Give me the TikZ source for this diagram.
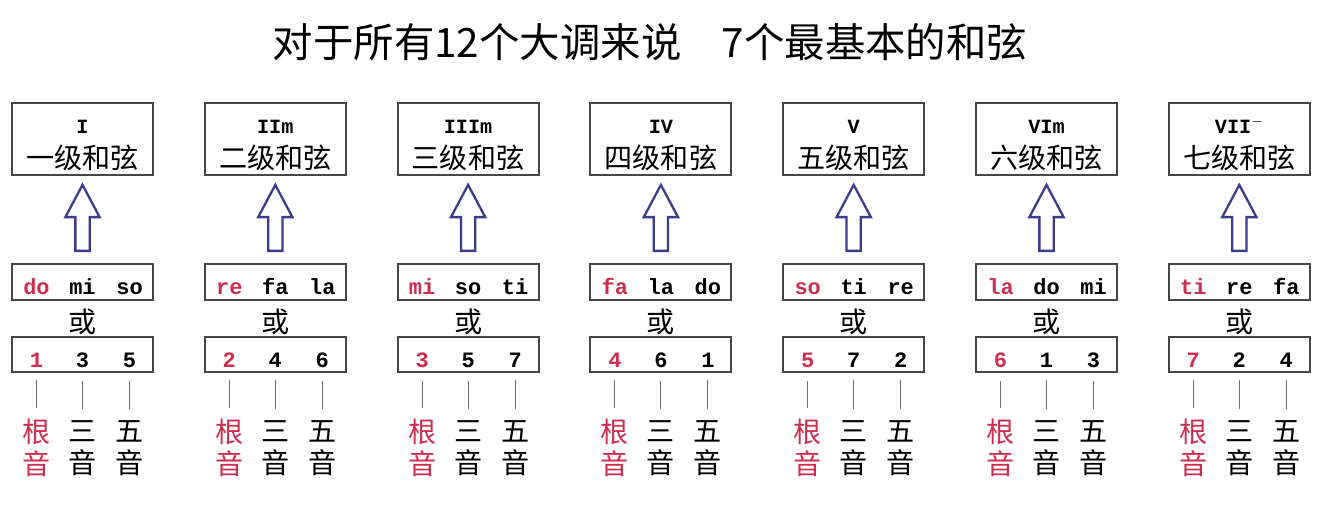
\documentclass[tikz,border=0pt]{standalone}
\usepackage{fontspec}
\setmonofont{Liberation Mono}
\newfontfamily\cjk{Noto Sans CJK SC}
\usepackage{tikz}
\usetikzlibrary{shapes.arrows}
\usepackage{xcolor}
\definecolor{rootred}{RGB}{205, 45, 80}
\definecolor{arrowblue}{RGB}{60, 60, 140}
\definecolor{boxgray}{RGB}{70, 70, 70}
\definecolor{tickgray}{RGB}{110, 110, 110}

\begin{document}
\begin{tikzpicture}[x=0.02cm, y=-0.02cm,
    chordbox/.style={draw=boxgray, line width=1.1pt, minimum width=2.82cm, inner sep=0pt},
    cjktext/.style={font=\cjk\fontsize{16}{20}\selectfont, inner sep=0pt},
    monotext/.style={font=\ttfamily\bfseries\fontsize{12.5}{15}\selectfont, inner sep=0pt, anchor=base},
    romtext/.style={font=\ttfamily\bfseries\fontsize{11.5}{14}\selectfont, inner sep=0pt, anchor=base},
    tick/.style={draw=tickgray, line width=0.6pt, shorten <=0.26cm, shorten >=0.22cm},
    uparrow/.style={single arrow, shape border rotate=90, draw=arrowblue, fill=white,
      line width=1.3pt, minimum height=1.32cm, minimum width=0.64cm, inner sep=0.12cm,
      single arrow head extend=0.2cm, single arrow tip angle=56, anchor=tail}]
    \useasboundingbox (0,0) rectangle (1334,512);
    \node[font=\cjk\fontsize{23}{26}\selectfont] (title) at (650, 42)
      {对于所有12个大调来说\quad 7个最基本的和弦};
    \foreach \i/\deg/\name/\sa/\sb/\sc/\na/\nb/\nc in {
      0/I/一级和弦/do/mi/so/1/3/5,
      1/IIm/二级和弦/re/fa/la/2/4/6,
      2/IIIm/三级和弦/mi/so/ti/3/5/7,
      3/IV/四级和弦/fa/la/do/4/6/1,
      4/V/五级和弦/so/ti/re/5/7/2,
      5/VIm/六级和弦/la/do/mi/6/1/3,
      6/{VII$^{-}$}/七级和弦/ti/re/fa/7/2/4} {
      \pgfmathsetmacro\cx{82.5+192.8*\i}
      % chord name box
      \node[chordbox, minimum height=1.44cm] (deg\i) at (\cx, 139) {};
      \node[romtext] (rom\i) at (\cx, 133) {\deg};
      \node[cjktext] (name\i) at (\cx, 158) {\name};
      % syllables
      \node[chordbox, minimum height=0.72cm] (syl\i) at (\cx, 282) {};
      \node[uparrow] (arr\i) at (\cx, 252) {};
      \node[monotext, text=rootred] (sa\i) at (\cx-46, 294) {\sa};
      \node[monotext] (sb\i) at (\cx, 294) {\sb};
      \node[monotext] (sc\i) at (\cx+47, 294) {\sc};
      \node[cjktext] (or\i) at (\cx, 322) {或};
      % numbers
      \node[chordbox, minimum height=0.7cm] (num\i) at (\cx, 354.5) {};
      \node[monotext, text=rootred] (na\i) at (\cx-46, 367) {\na};
      \node[monotext] (nb\i) at (\cx, 367) {\nb};
      \node[monotext] (nc\i) at (\cx+47, 367) {\nc};
      % root / third / fifth
      \node[cjktext, text=rootred, align=center] (ra\i) at (\cx-46, 448) {根\\[-2pt]音};
      \node[cjktext, align=center] (rb\i) at (\cx, 448) {三\\[-2pt]音};
      \node[cjktext, align=center] (rc\i) at (\cx+47, 448) {五\\[-2pt]音};
      \draw[tick] (na\i) -- (ra\i);
      \draw[tick] (nb\i) -- (rb\i);
      \draw[tick] (nc\i) -- (rc\i);
    }
  \end{tikzpicture}
\end{document}
